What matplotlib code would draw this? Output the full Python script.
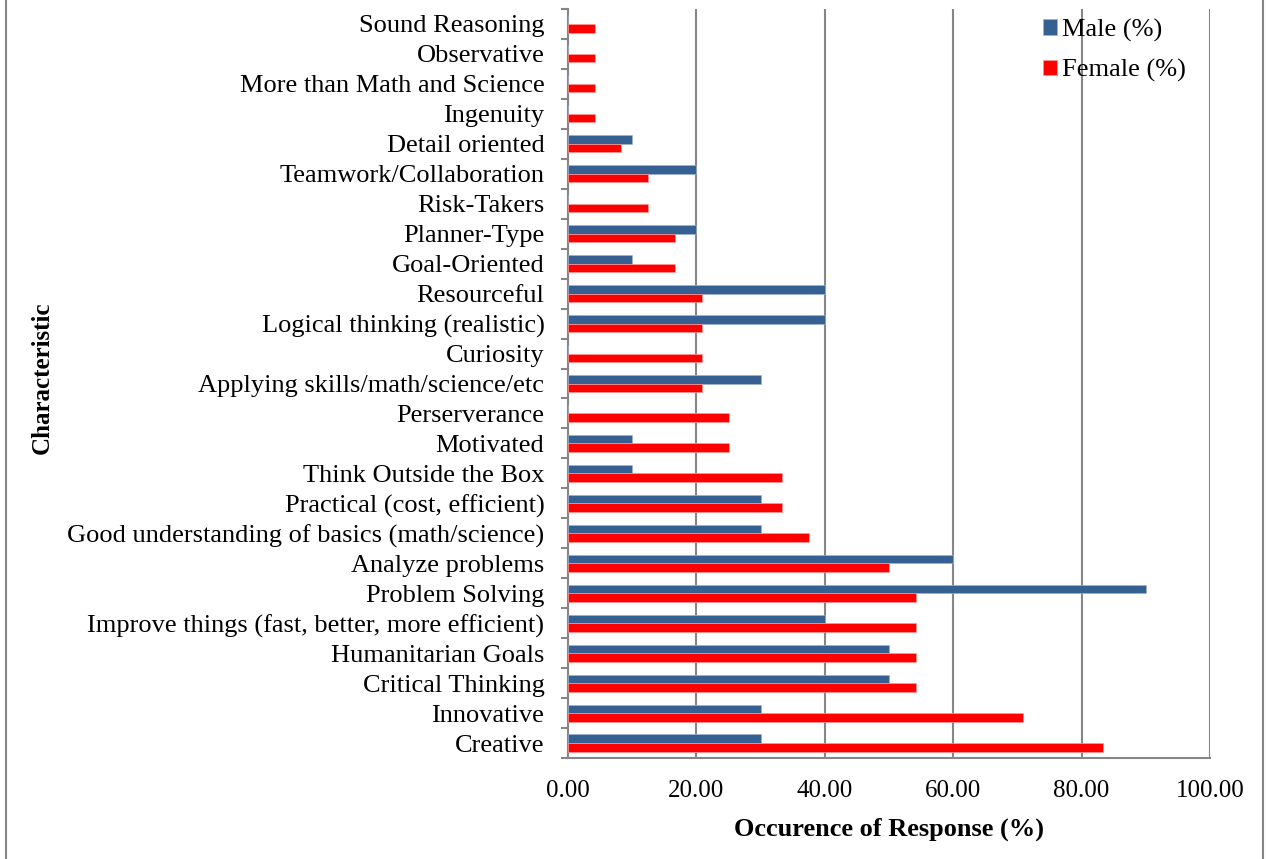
import matplotlib
matplotlib.use("Agg")
import matplotlib.pyplot as plt
import numpy as np
from matplotlib.lines import Line2D

categories = [
    "Creative", "Innovative", "Critical Thinking", "Humanitarian Goals",
    "Improve things (fast, better, more efficient)", "Problem Solving",
    "Analyze problems", "Good understanding of basics (math/science)",
    "Practical (cost, efficient)", "Think Outside the Box", "Motivated",
    "Perserverance", "Applying skills/math/science/etc", "Curiosity",
    "Logical thinking (realistic)", "Resourceful", "Goal-Oriented",
    "Planner-Type", "Risk-Takers", "Teamwork/Collaboration",
    "Detail oriented", "Ingenuity", "More than Math and Science",
    "Observative", "Sound Reasoning",
]
male = [30, 30, 50, 50, 40, 90, 60, 30, 30, 10, 10, 0, 30, 0, 40, 40, 10,
        20, 0, 20, 10, 0, 0, 0, 0]
female = [83.33, 70.83, 54.17, 54.17, 54.17, 54.17, 50.0, 37.5, 33.33, 33.33,
          25.0, 25.0, 20.83, 20.83, 20.83, 20.83, 16.67, 16.67, 12.5, 12.5,
          8.33, 4.17, 4.17, 4.17, 4.17]
xticks = [0, 20, 40, 60, 80, 100]

plt.rcParams['font.family'] = ['Liberation Serif', 'DejaVu Serif']

fig = plt.figure(figsize=(12.66, 8.59), dpi=100)
ax = fig.add_axes([568/1266, 1-758/859, (1210-568)/1266, (758-9)/859])

y = np.arange(len(categories))
h = 0.285
male_c = '#376092'
female_c = '#FF0000'
ax.barh(y + h/2, male, height=h, color=male_c, edgecolor='#9db3d0', linewidth=0.5, label='Male (%)', zorder=3)
ax.barh(y - h/2, female, height=h, color=female_c, edgecolor='#ff9999', linewidth=0.5, label='Female (%)', zorder=3)

ax.set_xlim(0, 100)
ax.set_ylim(-0.5, len(categories) - 0.5)
ax.set_xticks(xticks)
ax.set_xticklabels([f"{v:.2f}" for v in xticks], fontsize=18)
ax.set_yticks(y)
ax.set_yticklabels(categories, fontsize=19)
ax.tick_params(axis='y', length=0, pad=17)
ax.tick_params(axis='x', length=0, pad=16)
# boundary tick marks
ax.set_yticks(np.arange(-0.5, len(categories), 1), minor=True)
ax.tick_params(axis='y', which='minor', length=5, width=1.5, color='#868686')
ax.set_xticks(xticks, minor=True)
ax.tick_params(axis='x', which='minor', length=5, width=1.5, color='#868686')

ax.grid(axis='x', color='#868686', linewidth=1.5, zorder=0)
ax.set_axisbelow(True)
for s in ['top', 'right']:
    ax.spines[s].set_visible(False)
for s in ['left', 'bottom']:
    ax.spines[s].set_color('#868686')
    ax.spines[s].set_linewidth(1.5)

ax.set_xlabel("Occurence of Response (%)", fontsize=19, fontweight='bold', labelpad=11)
fig.text(42/1266, 1-378/859, "Characteristic", rotation=90, fontsize=18,
         fontweight='bold', ha='center', va='center')

leg = ax.legend(loc='upper left', bbox_to_anchor=((1040-568)/642, 1 - 7/749), frameon=False,
                fontsize=19, handlelength=0.55, handleheight=0.55, handletextpad=0.2,
                labelspacing=0.66, borderaxespad=0.0, borderpad=0.1)

# figure border (left and right edges)
fig.add_artist(Line2D([6/1266, 6/1266], [0, 1], transform=fig.transFigure, color='#868686', linewidth=1.5))
fig.add_artist(Line2D([1263/1266, 1263/1266], [0, 1], transform=fig.transFigure, color='#868686', linewidth=1.5))

fig.savefig("out.png", dpi=100)
